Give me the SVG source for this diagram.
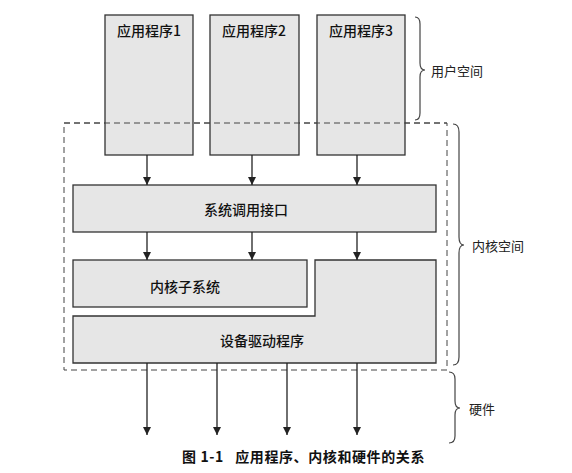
<svg xmlns="http://www.w3.org/2000/svg" width="572" height="473" viewBox="0 0 572 473">
<style>
.box{fill:#e6e6e6;stroke:#333;stroke-width:1.3}
.lbl{font-family:"Noto Sans CJK SC",sans-serif;font-size:14px;font-weight:500;fill:#111;text-anchor:middle;dominant-baseline:central}
.side{font-family:"Noto Sans CJK SC",sans-serif;font-size:13px;fill:#222;dominant-baseline:central}
.conn{stroke:#222;stroke-width:1.3;fill:none}
.brace{stroke:#444;stroke-width:1.2;fill:none}
</style>
<defs>
<marker id="ah" viewBox="0 0 10 10" refX="10" refY="5" markerWidth="8" markerHeight="8" markerUnits="userSpaceOnUse" orient="auto">
<path d="M0,0 L10,5 L0,10 z" fill="#222"/>
</marker>
</defs>
<rect x="64" y="123" width="383" height="247" fill="#fff" stroke="#444" stroke-width="1" stroke-dasharray="6,4"/>
<g id="app1"><rect class="box" x="105" y="15" width="88" height="140"/><text class="lbl" x="149" y="30">应用程序1</text></g>
<g id="app2"><rect class="box" x="210" y="15" width="89" height="140"/><text class="lbl" x="254" y="30">应用程序2</text></g>
<g id="app3"><rect class="box" x="317" y="15" width="88" height="140"/><text class="lbl" x="361" y="30">应用程序3</text></g>
<line x1="64" y1="123" x2="447" y2="123" stroke="#444" stroke-width="1" stroke-dasharray="6,4"/>
<g id="syscall"><rect class="box" x="73" y="185" width="363" height="47"/><text class="lbl" x="246" y="209">系统调用接口</text></g>
<g id="subsys"><rect class="box" x="73" y="260" width="234" height="47"/><text class="lbl" x="185" y="286">内核子系统</text></g>
<g id="driver"><path class="box" d="M315,260 H436 V363 H73 V316 H315 Z"/><text class="lbl" x="262" y="340">设备驱动程序</text></g>
<g id="connectors">
<line class="conn" x1="147" y1="155" x2="147" y2="185" marker-end="url(#ah)"/>
<line class="conn" x1="252" y1="155" x2="252" y2="185" marker-end="url(#ah)"/>
<line class="conn" x1="357" y1="155" x2="357" y2="185" marker-end="url(#ah)"/>
<line class="conn" x1="147" y1="232" x2="147" y2="260" marker-end="url(#ah)"/>
<line class="conn" x1="252" y1="232" x2="252" y2="260" marker-end="url(#ah)"/>
<line class="conn" x1="357" y1="232" x2="357" y2="260" marker-end="url(#ah)"/>
<line class="conn" x1="147" y1="363" x2="147" y2="435" marker-end="url(#ah)"/>
<line class="conn" x1="217" y1="363" x2="217" y2="435" marker-end="url(#ah)"/>
<line class="conn" x1="287" y1="363" x2="287" y2="435" marker-end="url(#ah)"/>
<line class="conn" x1="357" y1="363" x2="357" y2="435" marker-end="url(#ah)"/>
</g>
<g id="user-space">
<path class="brace" d="M415,17 Q420,17 420,24 V63 Q420,70 425,70 Q420,70 420,77 V113 Q420,120 415,120"/>
<text class="side" x="431" y="70">用户空间</text>
</g>
<g id="kernel-space">
<path class="brace" d="M453,124 Q459,124 459,132 V237 Q459,245 464,245 Q459,245 459,253 V357 Q459,365 453,365"/>
<text class="side" x="472" y="245">内核空间</text>
</g>
<g id="hardware">
<path class="brace" d="M449,372 Q455,372 455,379 V401 Q455,408 460,408 Q455,408 455,415 V436 Q455,443 449,443"/>
<text class="side" x="469" y="408">硬件</text>
</g>
<text x="182" y="456" font-family="'Noto Sans CJK SC',sans-serif" font-size="14" font-weight="bold" fill="#111" letter-spacing="0.6" dominant-baseline="central" xml:space="preserve">图 1-1   应用程序、内核和硬件的关系</text>
</svg>
